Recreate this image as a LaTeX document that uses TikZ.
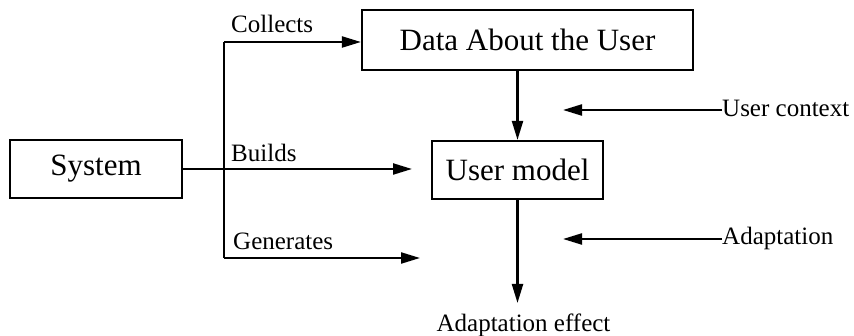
\documentclass[tikz,border=0pt]{standalone}
\usepackage{fontspec}
\setmainfont{Liberation Serif}
\usetikzlibrary{arrows.meta}
\begin{document}
\begin{tikzpicture}[x=1pt,y=-1pt,
  box/.style={draw, line width=2.2pt, inner sep=0pt, font=\fontsize{31}{36}\selectfont},
  lbl/.style={inner sep=0pt, font=\fontsize{25}{30}\selectfont},
  wire/.style={line width=2.2pt},
  arr/.style={wire, -{Triangle[length=19pt,width=11pt]}}]
\useasboundingbox (0,0) rectangle (854,336);

% boxes
\node[box, minimum width=172pt, minimum height=58pt] (sys) at (96,169) {System};
\node[box, minimum width=331pt, minimum height=60pt] (data) at (527.5,40) {Data About the User};
\node[box, minimum width=171pt, minimum height=58pt] (um) at (517.5,170) {User model};

% branch points and free ends
\coordinate (top) at (224,42);
\coordinate (bot) at (224,258);
\coordinate (buildend) at (412,169);
\coordinate (genend) at (420,258);
\coordinate (ctxend) at (563,110);
\coordinate (adaend) at (563,239);
\coordinate (effend) at (517.5,303);

% labels
\node[lbl, anchor=base west] (collects) at (231,33) {Collects};
\node[lbl, anchor=base west] (builds) at (231,162) {Builds};
\node[lbl, anchor=base west] (generates) at (233,250) {Generates};
\node[lbl, anchor=base west] (ctx) at (722,117) {User context};
\node[lbl, anchor=base west] (ada) at (722,245) {Adaptation};
\node[lbl, anchor=base] (effect) at (523.5,332) {Adaptation effect};

% connectors from the system
\draw[wire] (top) -- (bot);
\draw[arr] (top) -- (data.west |- top);
\draw[arr] (sys.east) -- (buildend);
\draw[arr] (bot) -- (genend);

% main flow
\draw[arr] (um.north |- data.south) -- (um.north);
\draw[arr] (um.south) -- (effend);

% side inputs
\draw[arr] (ctx.west |- ctxend) -- (ctxend);
\draw[arr] (ada.west |- adaend) -- (adaend);
\end{tikzpicture}
\end{document}
